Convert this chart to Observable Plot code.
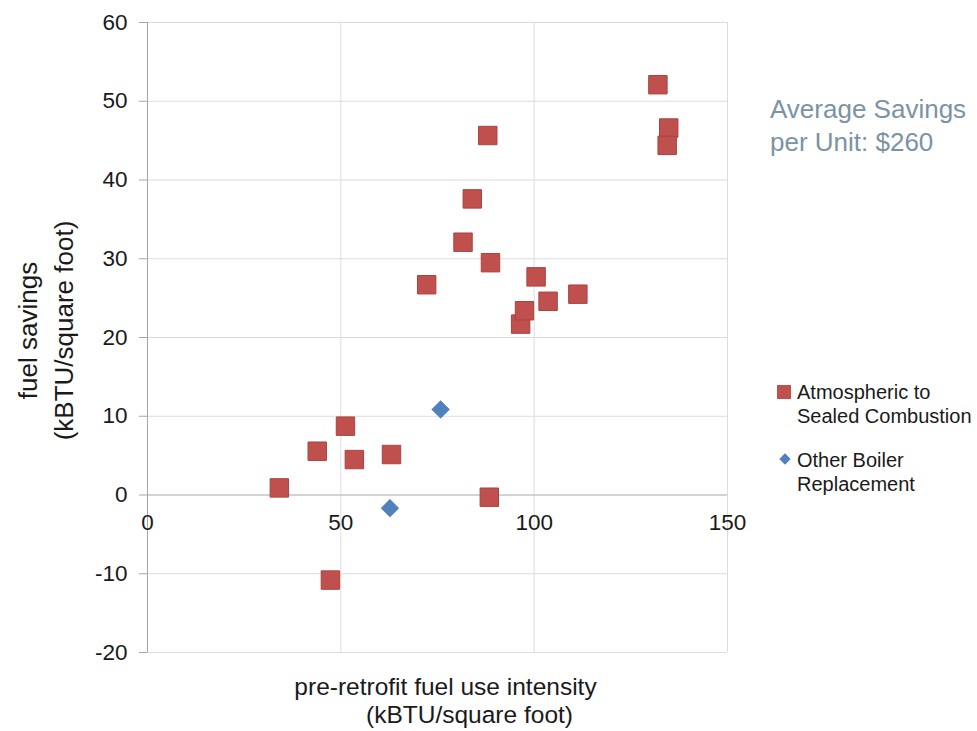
<!DOCTYPE html>
<html>
<head>
<meta charset="utf-8">
<script src="https://cdn.jsdelivr.net/npm/d3@7"></script>
<script src="https://cdn.jsdelivr.net/npm/@observablehq/plot@0.6"></script>
<style>
  body { margin: 0; background: #fff; font-family: "Liberation Sans", Arial, sans-serif; }
  #wrap { position: relative; width: 977px; height: 731px; overflow: hidden; }
  #chart { position: absolute; left: 0; top: 0; }
  .note { position: absolute; left: 770px; top: 93px; color: #7b93a4; font-size: 26px; line-height: 33px; white-space: nowrap; }
  .leg { position: absolute; left: 776px; font-size: 20px; line-height: 24px; color: #1a1a1a; white-space: nowrap; }
  .leg .txt { position: absolute; left: 21px; top: 0; }
  .sw { position: absolute; }
</style>
</head>
<body>
<div id="wrap">
  <div id="chart"></div>
  <div class="note" id="note"></div>
  <div class="leg" id="leg1" style="top:380px"><span class="sw" style="left:1px;top:5px;width:14px;height:14px;background:#C0504D"></span><span class="txt"></span></div>
  <div class="leg" id="leg2" style="top:448px"><span class="sw" style="left:5px;top:7px;width:8px;height:8px;background:#4F81BD;transform:rotate(45deg)"></span><span class="txt"></span></div>
</div>
<script>
// ---- data ----
const seriesNames = ["Atmospheric to\nSealed Combustion", "Other Boiler\nReplacement"];
const sealedX = [132.0, 134.8, 134.4, 88.0, 84.0, 81.6, 88.7, 72.2, 100.5, 111.3, 103.6, 96.5, 97.5, 51.2, 43.9, 53.5, 63.1, 34.1, 88.4, 47.3];
const sealedY = [52.1, 46.6, 44.4, 45.65, 37.6, 32.1, 29.5, 26.7, 27.7, 25.5, 24.6, 21.7, 23.4, 8.74, 5.56, 4.5, 5.14, 0.9, -0.28, -10.8];
const boilerX = [75.8, 62.7];
const boilerY = [10.86, -1.67];
const xTicks = [0, 50, 100, 150];
const yTicks = [-20, -10, 0, 10, 20, 30, 40, 50, 60];
const xTitle = ["pre-retrofit fuel use intensity", "(kBTU/square foot)"];
const yTitle = ["fuel savings", "(kBTU/square foot)"];
const noteLines = ["Average Savings", "per Unit: $260"];

const sealed = sealedX.map((x, i) => ({x, y: sealedY[i]}));
const boiler = boilerX.map((x, i) => ({x, y: boilerY[i]}));

const plot = Plot.plot({
  width: 977,
  height: 731,
  marginLeft: 147,
  marginRight: 250,
  marginTop: 22,
  marginBottom: 79,
  style: { fontFamily: "'Liberation Sans', Arial, sans-serif", background: "transparent", color: "#1a1a1a" },
  x: { domain: [0, 150], axis: null },
  y: { domain: [-20, 60], axis: null },
  marks: [
    Plot.gridY(yTicks, { stroke: "#dcdcdc", strokeOpacity: 1 }),
    Plot.gridX(xTicks.filter(d => d !== 0), { stroke: "#dcdcdc", strokeOpacity: 1 }),
    Plot.ruleY([0], { stroke: "#b8b8b8" }),
    Plot.ruleX([0], { stroke: "#a6a6a6" }),
    Plot.axisY(yTicks, { tickSize: 8, tickPadding: 12, fontSize: 22.5, stroke: "#a6a6a6", fill: "#1a1a1a", label: null, tickFormat: d => String(d) }),
    Plot.text(xTicks, { x: d => d, y: () => 0, dy: 28, text: d => String(d), fontSize: 22.5, fill: "#1a1a1a" }),
    Plot.text([yTitle[0]], { frameAnchor: "left", textAnchor: "middle", lineAnchor: "middle", rotate: -90, dx: -119, dy: -7, fontSize: 26, fill: "#1a1a1a" }),
    Plot.text([yTitle[1]], { frameAnchor: "left", textAnchor: "middle", lineAnchor: "middle", rotate: -90, dx: -83, dy: -7, fontSize: 26, fill: "#1a1a1a" }),
    Plot.text([xTitle[0]], { frameAnchor: "bottom", textAnchor: "middle", lineAnchor: "middle", dx: 8, dy: 35, fontSize: 24.5, fill: "#1a1a1a" }),
    Plot.text([xTitle[1]], { frameAnchor: "bottom", textAnchor: "middle", lineAnchor: "middle", dx: 32, dy: 63, fontSize: 24.5, fill: "#1a1a1a" }),
    Plot.dot(sealed, { x: "x", y: "y", symbol: "square", r: 10.4, fill: "#C0504D", stroke: "#a9433f", strokeWidth: 1 }),
    Plot.dot(boiler, { x: "x", y: "y", symbol: "diamond2", r: 8, fill: "#4F81BD", stroke: "#4272ab", strokeWidth: 0.5 })
  ]
});
document.getElementById("chart").appendChild(plot);
document.getElementById("note").innerHTML = noteLines.join("<br>");
document.querySelector("#leg1 .txt").innerHTML = seriesNames[0].replace("\n", "<br>");
document.querySelector("#leg2 .txt").innerHTML = seriesNames[1].replace("\n", "<br>");
</script>
</body>
</html>
